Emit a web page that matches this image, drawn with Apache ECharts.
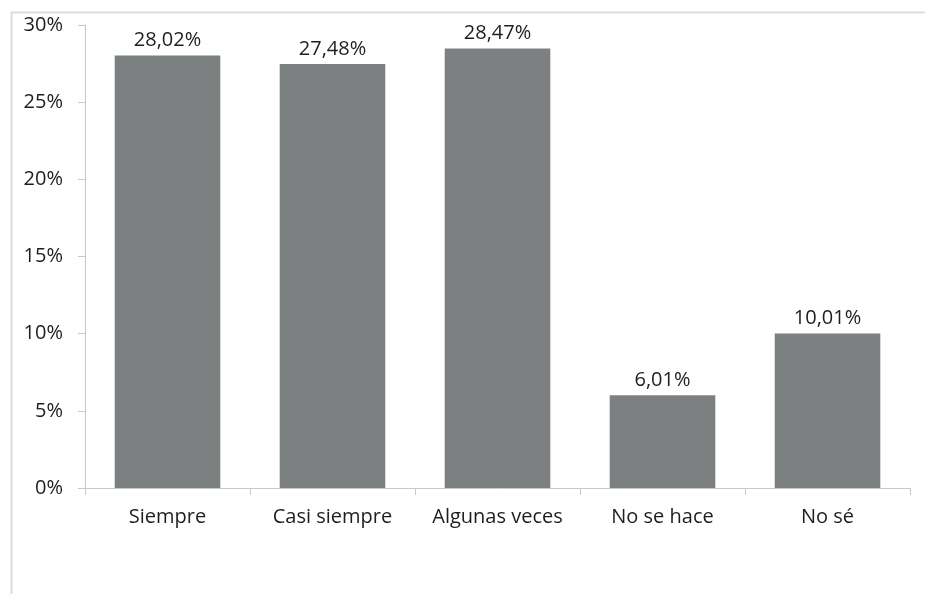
<!DOCTYPE html>
<html><head><meta charset="utf-8">
<script src="https://cdn.jsdelivr.net/npm/echarts@6/dist/echarts.min.js"></script>
<style>html,body{margin:0;padding:0;background:#fff}#c{width:925px;height:594px}</style>
</head><body><div id="c"></div>
<script>
var categories = ["Siempre", "Casi siempre", "Algunas veces", "No se hace", "No sé"];
var values = [28.02, 27.48, 28.47, 6.01, 10.01];
var yTicks = [0, 5, 10, 15, 20, 25, 30];

var chart = echarts.init(document.getElementById('c'), null, {renderer: 'canvas'});
var font = '"Open Sans", sans-serif';
var txt = '#1e1e1e';
chart.setOption({
  animation: false,
  backgroundColor: '#fff',
  graphic: [{
    type: 'rect', left: 9, top: 10, shape: {x: 0, y: 0, width: 940, height: 600},
    style: {fill: 'none', stroke: '#dcdcdc', lineWidth: 2}, silent: true
  }],
  grid: {left: 85, right: 15, top: 25, bottom: 106, containLabel: false},
  xAxis: {
    type: 'category', data: categories,
    axisLine: {lineStyle: {color: '#c8c8c8', width: 1}},
    axisTick: {show: true, alignWithLabel: false, interval: 0, length: 7, inside: false, lineStyle: {color: '#c8c8c8'}},
    axisLabel: {color: txt, fontFamily: font, fontSize: 20, margin: 19, interval: 0, hideOverlap: false}
  },
  yAxis: {
    type: 'value', min: yTicks[0], max: yTicks[yTicks.length - 1], interval: 5,
    axisLine: {show: true, lineStyle: {color: '#c8c8c8'}},
    axisTick: {show: true, length: 7, lineStyle: {color: '#c8c8c8'}},
    splitLine: {show: false},
    axisLabel: {color: txt, fontFamily: font, fontSize: 20, margin: 22, formatter: function (v) { return v + '%'; }}
  },
  series: [{
    type: 'bar', data: values, barCategoryGap: '36%',
    itemStyle: {color: '#7d8081'},
    label: {show: true, position: 'top', distance: 5, color: txt, fontFamily: font, fontSize: 20,
      formatter: function (p) { return p.value.toFixed(2).replace('.', ',') + '%'; }}
  }]
});
</script></body></html>
